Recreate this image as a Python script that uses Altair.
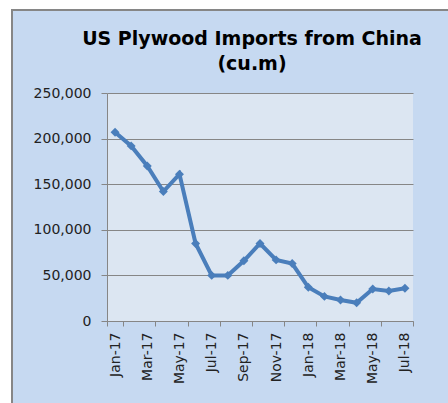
import altair as alt
import pandas as pd

months = ["Jan-17", "Feb-17", "Mar-17", "Apr-17", "May-17", "Jun-17", "Jul-17",
          "Aug-17", "Sep-17", "Oct-17", "Nov-17", "Dec-17", "Jan-18", "Feb-18",
          "Mar-18", "Apr-18", "May-18", "Jun-18", "Jul-18"]
imports = [207000, 192000, 170000, 142000, 161000, 85000, 50000,
           50000, 66000, 85000, 67000, 63000, 37000, 27000,
           23000, 20000, 35000, 33000, 36000]
y_ticks = [0, 50000, 100000, 150000, 200000, 250000]
x_label_months = months[::2]
title_lines = ["US Plywood Imports from China", "(cu.m)"]

W, H = 306, 228
PL, PT = 107, 93
PR = 448 - PL - W
PB = 403 - PT - H

df = pd.DataFrame({"month": months, "imports": imports})
one = pd.DataFrame({"k": [0]})

LINE_COLOR = "#4a7ebb"
GRAY = "#868686"

base = alt.Chart(df).encode(
    x=alt.X("month:O", sort=months, title=None,
            scale=alt.Scale(paddingInner=0, paddingOuter=0),
            axis=alt.Axis(values=x_label_months, labelAngle=-90, tickBand="extent",
                          tickSize=5, labelPadding=6, tickColor=GRAY, domainColor=GRAY,
                          labelFont="DejaVu Sans", labelFontSize=14, labelColor="#222222",
                          grid=False)),
    y=alt.Y("imports:Q", title=None,
            scale=alt.Scale(domain=[0, 250000], nice=False),
            axis=alt.Axis(values=y_ticks, format=",d", tickSize=6, labelPadding=10,
                          tickColor=GRAY, domainColor=GRAY, gridColor=GRAY,
                          labelFont="DejaVu Sans", labelFontSize=14, labelColor="#222222")),
)

line = base.mark_line(color=LINE_COLOR, strokeWidth=4)
pts = base.mark_point(shape="diamond", filled=True, size=80, color=LINE_COLOR, opacity=1)

deco = alt.Chart(one)
white_top = deco.mark_rect(color="white").encode(
    x=alt.value(-PL), x2=alt.value(W + PR), y=alt.value(-PT), y2=alt.value(9 - PT))
white_left = deco.mark_rect(color="white").encode(
    x=alt.value(-PL), x2=alt.value(11 - PL), y=alt.value(-PT), y2=alt.value(H + PB))
border_top = deco.mark_rect(color=GRAY).encode(
    x=alt.value(11 - PL), x2=alt.value(W + PR), y=alt.value(9 - PT), y2=alt.value(11 - PT))
border_left = deco.mark_rect(color=GRAY).encode(
    x=alt.value(11 - PL), x2=alt.value(13 - PL), y=alt.value(9 - PT), y2=alt.value(H + PB))

title1 = deco.mark_text(text=title_lines[0], font="DejaVu Sans", fontSize=19,
                        fontWeight="bold", color="black", align="center",
                        baseline="alphabetic").encode(
    x=alt.value(252 - PL), y=alt.value(45 - PT))
title2 = deco.mark_text(text=title_lines[1], font="DejaVu Sans", fontSize=19,
                        fontWeight="bold", color="black", align="center",
                        baseline="alphabetic").encode(
    x=alt.value(252 - PL), y=alt.value(70 - PT))

chart = alt.layer(white_top, white_left, border_top, border_left, title1, title2,
                  line, pts).properties(
    width=W, height=H,
    autosize=alt.AutoSizeParams(type="none"),
    padding={"left": PL, "top": PT, "right": PR, "bottom": PB},
    background="#c6d9f1",
).configure_view(fill="#dce6f2", strokeWidth=0)

chart.save("out.html", embed_options={"renderer": "svg", "actions": False})
